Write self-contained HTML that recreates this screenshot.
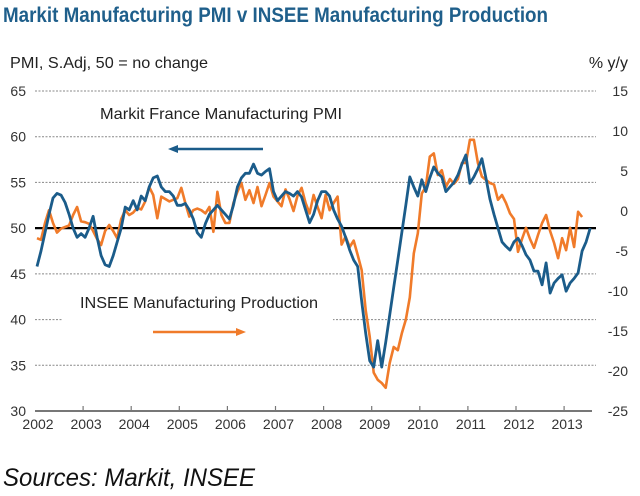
<!DOCTYPE html>
<html><head><meta charset="utf-8"><style>
html,body{margin:0;padding:0;background:#fff;}
svg{display:block;font-family:"Liberation Sans Narrow","Liberation Sans",sans-serif;}
</style></head><body>
<svg id="chart" width="640" height="496" viewBox="0 0 640 496">
<text x="3" y="22" font-size="21" font-weight="bold" fill="#1f5f8b" textLength="545" lengthAdjust="spacingAndGlyphs">Markit Manufacturing PMI v INSEE Manufacturing Production</text>
<text x="10" y="68" font-size="16" fill="#222" textLength="198" lengthAdjust="spacingAndGlyphs">PMI, S.Adj, 50 = no change</text>
<text x="628" y="68" font-size="16" fill="#222" text-anchor="end">% y/y</text>
<g id="grid"></g>
<g id="yl"></g><g id="yr"></g><g id="xa"></g>
<rect x="63" y="286" width="270" height="58" fill="#fff"/>
<text x="80" y="308" font-size="16" fill="#222" textLength="238" lengthAdjust="spacingAndGlyphs">INSEE Manufacturing Production</text>
<line x1="153" y1="332" x2="238" y2="332" stroke="#f07b2a" stroke-width="2.5"/>
<polygon points="246,332 236,328 236,336" fill="#f07b2a"/>
<text x="100" y="119" font-size="16" fill="#222" textLength="242" lengthAdjust="spacingAndGlyphs">Markit France Manufacturing PMI</text>
<line x1="178" y1="149" x2="263" y2="149" stroke="#1b5c8a" stroke-width="2.5"/>
<polygon points="168,149 178,145 178,153" fill="#1b5c8a"/>
<g id="series"></g>
<text x="3" y="486" font-size="25" font-style="italic" fill="#111" font-family="Liberation Sans, sans-serif" textLength="252" lengthAdjust="spacingAndGlyphs">Sources: Markit, INSEE</text>
</svg>
<script>
const years=["2002","2003","2004","2005","2006","2007","2008","2009","2010","2011","2012","2013"];
const leftTicks=[30,35,40,45,50,55,60,65];
const rightTicks=[-25,-20,-15,-10,-5,0,5,10,15];
const pmi=[45.8,47.5,49.5,51.5,53.3,53.8,53.6,52.8,51.5,50.0,49.0,49.4,
49.0,50.0,51.3,49.0,47.0,46.0,45.8,47.0,48.5,50.0,52.3,52.0,
53.0,52.0,53.5,53.0,54.5,55.5,55.7,54.5,54.0,54.0,53.5,52.5,
52.5,52.7,52.0,51.0,49.5,49.0,50.5,51.5,52.0,52.5,52.0,51.5,
51.0,52.5,54.5,55.5,56.0,56.0,57.0,56.0,55.8,56.2,56.5,54.0,
53.0,53.5,54.0,53.8,53.5,54.0,53.4,52.0,50.6,51.5,53.0,54.0,
54.0,53.5,52.0,51.0,50.2,49.0,47.6,46.5,45.8,42.0,38.5,35.5,
34.8,37.7,34.8,37.5,40.5,43.5,46.5,49.5,52.5,55.6,54.5,53.5,
55.3,54.0,55.5,56.7,56.0,55.6,54.0,54.5,55.0,55.8,57.0,58.0,
54.9,55.6,56.5,57.6,55.5,53.2,51.5,50.0,48.5,48.0,47.6,48.5,
48.9,48.1,47.1,46.5,45.3,45.3,43.8,46.2,42.9,44.0,44.5,44.9,
43.1,44.0,44.5,45.1,47.5,48.5,50.0];
const prod=[-3.4,-3.6,-1.5,0.1,-1.5,-2.7,-2.2,-2.0,-1.8,-0.5,0.5,-1.3,
-1.4,-1.6,-2.5,-3.5,-4.25,-2.5,-1.75,-2.5,-3.4,-1.0,0.1,-0.5,
-0.2,0.4,0.2,1.2,3.0,2.0,-0.9,1.8,1.5,1.2,1.4,1.6,
2.9,1.0,-0.7,0.1,0.3,0.1,-0.3,0.5,-2.6,2.4,-0.5,-1.5,
-1.5,1.0,2.4,3.5,1.4,2.6,1.0,3.0,0.6,2.0,3.5,1.8,
1.2,0.6,2.7,1.5,0.0,1.9,2.9,1.0,-0.3,2.0,0.5,-0.9,
2.0,0.1,1.0,1.8,-4.2,-3.2,-4.5,-3.7,-5.5,-7.4,-12.4,-15.7,
-20.2,-21.1,-21.5,-22.1,-19.0,-17.0,-17.4,-15.3,-13.6,-10.8,-5.3,-2.8,
2.2,3.0,6.8,7.2,4.5,5.1,3.0,4.0,3.4,4.0,6.0,6.0,
8.9,8.9,6.0,4.3,3.9,3.5,3.3,1.4,2.0,1.0,-0.3,-1.0,
-5.1,-3.5,-2.1,-3.5,-4.6,-3.0,-1.5,-0.5,-2.5,-4.0,-5.9,-3.4,
-4.9,-2.1,-4.5,-0.1,-0.75];
const NS="http://www.w3.org/2000/svg";
const X0=35,YW=48.1,XEND=592;
function xT(t){return X0+YW*t;}
function yL(v){return 91+(65-v)*(320/35);}
function yR(v){return 91+(15-v)*8;}
function mk(tag,attrs,parent){const e=document.createElementNS(NS,tag);for(const k in attrs)e.setAttribute(k,attrs[k]);parent.appendChild(e);return e;}
const grid=document.getElementById('grid');
leftTicks.forEach(v=>{
  if(v===30||v===50)return;
  const l=mk('line',{x1:X0,x2:XEND+4,y1:yL(v),y2:yL(v),stroke:'#888','stroke-width':1,'stroke-dasharray':'2,1.5'},grid);
  
  
});
const yl=document.getElementById('yl');
leftTicks.forEach(v=>{
  const t=mk('text',{x:26,y:yL(v)+5,'font-size':14,fill:'#333','text-anchor':'end'},yl);t.textContent=v;
  
  
});
const yr=document.getElementById('yr');
rightTicks.forEach(v=>{
  const t=mk('text',{x:628,y:yR(v)+5,'font-size':14,fill:'#333','text-anchor':'end'},yr);t.textContent=v;
  
  
});
const xa=document.getElementById('xa');
const ax=mk('line',{x1:X0,x2:XEND,y1:yL(30),y2:yL(30),stroke:'#777','stroke-width':2},xa);


years.forEach((y,i)=>{
  const x=xT(i);
  if(i>0){const tk=mk('line',{x1:x,x2:x,y1:yL(30)-5,y2:yL(30),stroke:'#777','stroke-width':1.2},xa);
  
  }
  const t=mk('text',{x:x+3,y:yL(30)+18,'font-size':14,fill:'#333','text-anchor':'middle'},xa);t.textContent=y;
  
  
});
const s=document.getElementById('series');
const zl=mk('line',{x1:X0,x2:XEND+4,y1:yL(50),y2:yL(50),stroke:'#000','stroke-width':2.2},s);


const po=mk('polyline',{points:prod.map((v,i)=>xT((i+0.5)/12).toFixed(1)+','+yR(v).toFixed(1)).join(' '),fill:'none',stroke:'#f07b2a','stroke-width':2.6,'stroke-linejoin':'round'},s);


const pl=mk('polyline',{points:pmi.map((v,i)=>xT((i+0.5)/12).toFixed(1)+','+yL(v).toFixed(1)).join(' '),fill:'none',stroke:'#1b5c8a','stroke-width':2.8,'stroke-linejoin':'round'},s);


</script>
</body></html>
